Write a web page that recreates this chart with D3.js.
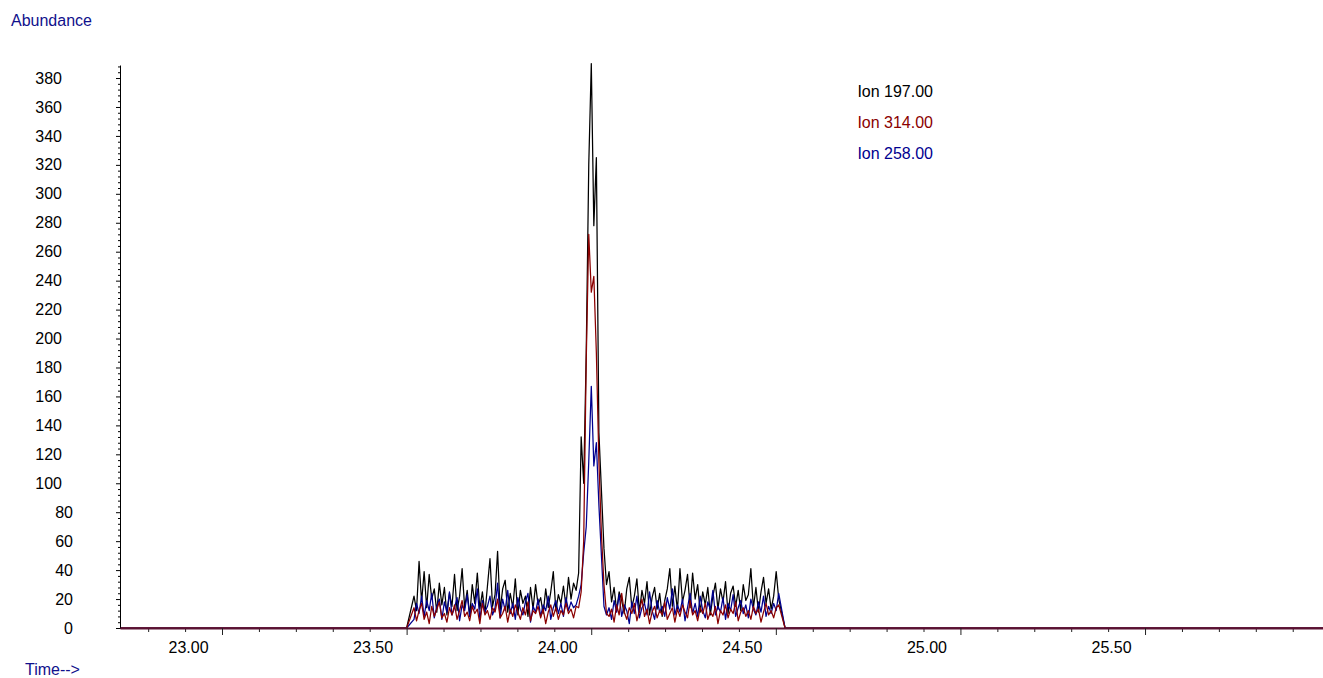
<!DOCTYPE html>
<html>
<head>
<meta charset="utf-8">
<script src="https://cdn.jsdelivr.net/npm/d3@7"></script>
<style>
  body { margin: 0; background: #fff; }
  svg { display: block; font-family: "Liberation Sans", Arial, sans-serif; }
</style>
</head>
<body>
<svg width="1323" height="678"></svg>
<script>
// SIM window and scan timing (min)
var scanStart = 23.52, scanStep = 0.00686;
var windowStart = 23.50, windowEnd = 24.525;

// abundance per scan
var ion197 = [22,12,46,18,39,14,37,20,27,11, 31,16,28,9,24,15,37,12,22,41,
  14,26,8,30,17,38,13,25,10,29, 48,15,23,53,12,27,33,11,24,14,
  34,9,26,17,22,8,28,13,30,16, 21,10,27,14,25,39,12,23,17,29,
  15,35,20,31,26,38,
  132,100,190,320,390,278,325,135,95,55,30,
  39,18,28,12,25,19,10,27,35,14, 22,34,11,26,17,32,9,21,28,13,
  24,8,19,27,41,15,29,12,41,18, 26,37,14,38,20,30,11,25,16,28,
  9,22,31,13,27,18,32,10,24,29, 15,26,12,30,19,23,41,14,28,11,
  25,35,17,27,13,22,39,20];

var ion314 = [14,5,12,17,6,11,3,15,8,13, 18,7,10,4,14,9,16,6,12,19,
  8,11,5,15,10,13,3,17,9,12, 6,14,11,20,7,10,15,4,13,8,
  16,11,6,14,9,18,5,12,10,15, 7,13,3,11,16,8,14,6,12,9,
  17,10,13,7,15,14,
  25,60,185,272,232,243,190,115,65,30,10,
  8,13,4,16,9,24,11,6,14,10, 17,5,12,20,8,13,3,11,15,7,
  12,9,18,6,10,14,4,13,8,16, 11,7,19,9,12,5,14,10,17,6,
  11,8,15,3,12,9,16,7,13,10, 18,5,11,14,8,12,6,15,10,13,
  4,11,17,9,12,7,14,16];

var ion258 = [6,17,10,22,8,19,12,24,7,15, 20,6,18,11,25,9,14,21,5,16,
  12,23,8,17,13,27,6,19,11,15, 22,9,14,31,7,20,12,26,10,17,
  6,21,13,9,18,24,4,15,11,20, 8,16,12,22,6,14,19,10,17,8,
  21,12,18,14,16,22,
  30,52,70,115,167,112,128,85,50,15,9,
  14,6,19,11,23,8,16,12,3,18, 10,22,7,14,17,9,25,12,6,19,
  11,15,8,21,13,27,9,16,11,20, 5,14,24,10,17,8,22,12,7,18,
  13,26,9,15,11,21,6,17,12,23, 8,14,19,10,16,7,20,13,9,18,
  11,22,8,15,10,17,12,24];

var yTicks = [0,20,40,60,80,100,120,140,160,180,200,220,240,260,280,300,320,340,360,380];
var xTicks = [23.0, 23.5, 24.0, 24.5, 25.0, 25.5];
var xTickLabels = ["23.00", "23.50", "24.00", "24.50", "25.00", "25.50"];

var legendNames = ["Ion 197.00", "Ion 314.00", "Ion 258.00"];
var legendColors = ["#000000", "#8b0000", "#00008f"];

var svg = d3.select("svg");

var x = d3.scaleLinear().domain([22.7237, 25.982]).range([120, 1323]),
    y = d3.scaleLinear().domain([0, 389]).range([628, 65]);

function toPoints(values) {
  var pts = [[x.domain()[0], 0], [windowStart, 0]];
  values.forEach(function(v, i) { pts.push([scanStart + i * scanStep, v]); });
  pts.push([windowEnd, 0], [x.domain()[1], 0]);
  return pts;
}

var line = d3.line()
  .x(function(d) { return x(d[0]); })
  .y(function(d) { return y(d[1]); });

// draw order: 197 under, 258, 314 on top
var series = [
  { values: ion197, color: "#000000" },
  { values: ion258, color: "#00008f" },
  { values: ion314, color: "#8b0000" }
];

svg.append("g").selectAll("path")
  .data(series)
  .enter().append("path")
    .attr("fill", "none")
    .attr("stroke", function(d) { return d.color; })
    .attr("stroke-width", 1.25)
    .attr("stroke-linejoin", "round")
    .attr("d", function(d) { return line(toPoints(d.values)); });

// y axis: minor ticks every 4, majors every 20
var yMinor = d3.range(0, 389, 4).filter(function(v) { return v % 20 !== 0; });
svg.append("g")
  .attr("transform", "translate(120,0)")
  .call(d3.axisLeft(y).tickValues(yMinor).tickSize(2).tickSizeOuter(0).tickFormat(""))
  .call(function(g) { g.select(".domain").remove(); });

var yAxis = svg.append("g")
  .attr("transform", "translate(120,0)")
  .call(d3.axisLeft(y).tickValues(yTicks).tickSize(4).tickSizeOuter(0));
yAxis.select(".domain").attr("stroke", "#000");
yAxis.selectAll("text")
  .attr("x", function(d) { return d >= 100 ? -58 : -47; })
  .style("font-size", "16px")
  .attr("fill", "#000");

// x axis: minor ticks every 0.1, majors every 0.5
var xMinor = d3.range(228, 260).filter(function(k) { return k % 5 !== 0; }).map(function(k) { return k / 10; });
svg.append("g")
  .attr("transform", "translate(0,628)")
  .call(d3.axisBottom(x).tickValues(xMinor).tickSize(4).tickFormat(""))
  .call(function(g) { g.select(".domain").remove(); })
  .selectAll("line").attr("stroke", "#222");

var xAxis = svg.append("g")
  .attr("transform", "translate(0,628)")
  .call(d3.axisBottom(x).tickValues(xTicks).tickSize(7).tickSizeOuter(0).tickPadding(7)
    .tickFormat(function(d, i) { return xTickLabels[i]; }));
xAxis.selectAll(".tick line").attr("stroke", "#222");
xAxis.select(".domain").attr("stroke", "#5a1232").attr("stroke-width", 2);
xAxis.selectAll("text")
  .attr("dx", -34)
  .style("font-size", "16px")
  .attr("fill", "#000");

// titles
svg.append("text")
  .attr("x", 11).attr("y", 26)
  .attr("fill", "#10108c")
  .style("font-size", "16px")
  .text("Abundance");

svg.append("text")
  .attr("x", 25).attr("y", 675)
  .attr("fill", "#10108c")
  .style("font-size", "16px")
  .text("Time-->");

// legend
svg.append("g").selectAll("text")
  .data(legendNames)
  .enter().append("text")
    .attr("x", 933)
    .attr("y", function(d, i) { return 96.5 + i * 31; })
    .attr("text-anchor", "end")
    .attr("fill", function(d, i) { return legendColors[i]; })
    .style("font-size", "16px")
    .text(function(d) { return d; });
</script>
</body>
</html>
